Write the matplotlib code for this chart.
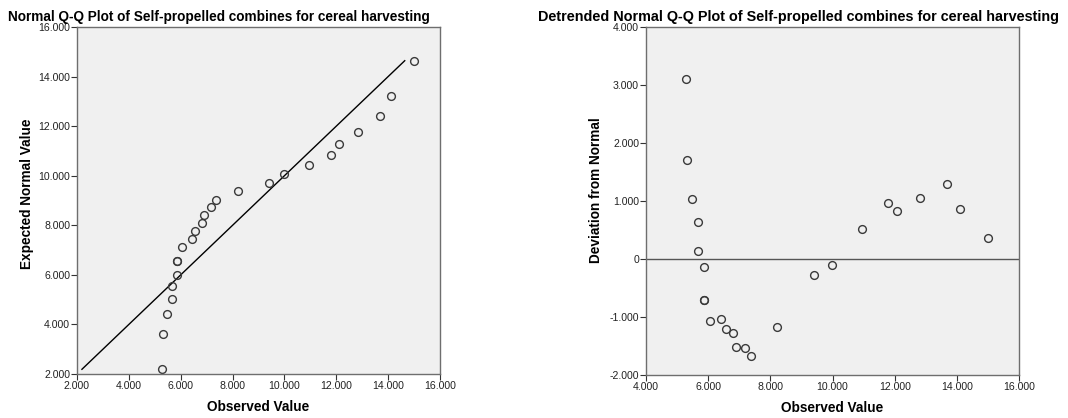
import matplotlib.pyplot as plt
from matplotlib.ticker import FuncFormatter

plt.rcParams['font.family'] = ['Liberation Sans', 'DejaVu Sans']

observed = [5.29, 5.31, 5.47, 5.67, 5.67, 5.86, 5.86, 5.86, 6.06, 6.42, 6.57, 6.81,
            6.89, 7.18, 7.37, 8.20, 9.42, 9.97, 10.95, 11.80, 12.09, 12.83, 13.69,
            14.10, 15.00]
deviation = [3.10, 1.71, 1.03, 0.63, 0.13, -0.13, -0.71, -0.71, -1.07, -1.03, -1.21,
             -1.28, -1.52, -1.54, -1.67, -1.17, -0.28, -0.10, 0.52, 0.96, 0.83, 1.05,
             1.30, 0.87, 0.36]
# expected normal value = observed - deviation
expected = [o - d for o, d in zip(observed, deviation)]

qq_xticks = [2, 4, 6, 8, 10, 12, 14, 16]
qq_yticks = [2, 4, 6, 8, 10, 12, 14, 16]
dt_xticks = [4, 6, 8, 10, 12, 14, 16]
dt_yticks = [-2, -1, 0, 1, 2, 3, 4]

title_text = 'Self-propelled combines for cereal harvesting'

fig = plt.figure(figsize=(10.68, 4.18), dpi=100)
fig.patch.set_facecolor('white')


def fmt(v, pos):
    if v == 0:
        return '0'
    return f'{v:.3f}'


def style(ax):
    ax.set_facecolor('#f0f0f0')
    for s in ax.spines.values():
        s.set_color('#6e6e6e')
        s.set_linewidth(1.0)
    ax.tick_params(direction='out', length=4, width=0.8, color='#333333',
                   labelsize=7.6, pad=1, labelcolor='#222222')
    ax.xaxis.set_major_formatter(FuncFormatter(fmt))
    ax.yaxis.set_major_formatter(FuncFormatter(fmt))


mk = dict(linestyle='none', marker='o', markersize=5.6, markerfacecolor='none',
          markeredgecolor='#3a3a3a', markeredgewidth=1.0)

# Normal Q-Q plot
ax1 = fig.add_axes([77 / 1068, 44 / 418, 363 / 1068, 347 / 418])
style(ax1)
lo, hi = min(expected), max(expected)
ax1.plot([lo, hi], [lo, hi], color='black', linewidth=1.0)
ax1.plot(observed, expected, **mk)
ax1.set_xlim(2, 16)
ax1.set_ylim(2, 16)
ax1.set_xticks(qq_xticks)
ax1.set_yticks(qq_yticks)
ax1.set_xlabel('Observed Value', fontsize=9.8, fontweight='bold')
ax1.set_ylabel('Expected Normal Value', fontsize=9.8, fontweight='bold')
ax1.xaxis.set_label_coords(0.5, -0.076)
ax1.yaxis.set_label_coords(-43 / 363, 0.52)

# Detrended Normal Q-Q plot
ax2 = fig.add_axes([646 / 1068, 43 / 418, 373 / 1068, 348 / 418])
style(ax2)
ax2.axhline(0, color='#555555', linewidth=1.0)
ax2.plot(observed, deviation, **mk)
ax2.set_xlim(4, 16)
ax2.set_ylim(-2, 4)
ax2.set_xticks(dt_xticks)
ax2.set_yticks(dt_yticks)
ax2.set_xlabel('Observed Value', fontsize=9.8, fontweight='bold')
ax2.set_ylabel('Deviation from Normal', fontsize=9.8, fontweight='bold')
ax2.xaxis.set_label_coords(0.5, -0.076)
ax2.yaxis.set_label_coords(-43 / 373, 0.53)

fig.text(8 / 1068, 1 - 17 / 418, 'Normal Q-Q Plot of ' + title_text,
         fontsize=9.8, fontweight='bold', ha='left', va='center')
fig.text(538 / 1068, 1 - 17 / 418, 'Detrended Normal Q-Q Plot of ' + title_text,
         fontsize=10.4, fontweight='bold', ha='left', va='center')

fig.savefig('out.png', dpi=100)
